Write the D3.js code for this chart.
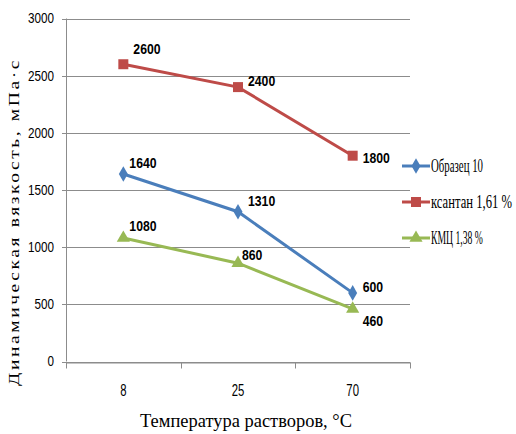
<!DOCTYPE html>
<html>
<head>
<meta charset="utf-8">
<script src="https://cdn.jsdelivr.net/npm/d3@7"></script>
<style>
  body { margin: 0; background: #fff; }
  svg { display: block; }
  .narrow { font-family: "Liberation Sans Narrow", "Arial Narrow", "Liberation Sans", sans-serif; }
  .serif { font-family: "Liberation Serif", "Times New Roman", serif; }
</style>
</head>
<body>
<svg id="chart"></svg>
<script>
const categories = ["8", "25", "70"];
const seriesNames = ["Образец 10", "ксантан 1,61 %", "КМЦ 1,38 %"];
const obrazets = [1640, 1310, 600];
const ksantan = [2600, 2400, 1800];
const kmts = [1080, 860, 460];
const yTicks = [0, 500, 1000, 1500, 2000, 2500, 3000];

// label offsets (dx, dy) relative to the point
const labelOffsets = [
  [[6, -11], [10, -11], [10, -6]],
  [[10, -15], [10, -6], [10, 2]],
  [[6, -12], [4, -8], [10, 12]]
];

const w = 516, h = 434;
const mLeft = 66, mRight = 410, mTop = 18.5, mBottom = 361.5;

const series = [
  { name: seriesNames[0], values: obrazets, color: "#4A7EBB", symbol: d3.symbolDiamond, size: 70 },
  { name: seriesNames[1], values: ksantan, color: "#BE4B48", symbol: d3.symbolSquare, size: 100 },
  { name: seriesNames[2], values: kmts, color: "#98B954", symbol: d3.symbolTriangle, size: 75 }
];

// squeeze text to look like a condensed face
const squeeze = (sel, perChar) => sel
  .attr("textLength", function () { return this.textContent.length * perChar; })
  .attr("lengthAdjust", "spacingAndGlyphs");

const svg = d3.select("#chart").attr("width", w).attr("height", h);

const x = d3.scaleBand().domain(categories).range([mLeft, mRight]);
const y = d3.scaleLinear().domain([0, 3000]).range([mBottom, mTop]);

// gridlines
svg.append("g")
  .selectAll("line")
  .data(yTicks)
  .enter()
  .append("line")
  .attr("x1", mLeft - 4)
  .attr("x2", mRight)
  .attr("y1", d => Math.round(y(d)) + 0.5)
  .attr("y2", d => Math.round(y(d)) + 0.5)
  .attr("stroke", "#8c8c8c")
  .attr("stroke-width", 1);

// y axis line
svg.append("line")
  .attr("x1", mLeft + 0.5).attr("x2", mLeft + 0.5)
  .attr("y1", mTop).attr("y2", mBottom)
  .attr("stroke", "#8c8c8c");

// y tick labels
svg.append("g")
  .selectAll("text")
  .data(yTicks)
  .enter()
  .append("text")
  .attr("class", "narrow")
  .attr("x", mLeft - 12)
  .attr("y", d => y(d))
  .attr("dy", "0.35em")
  .attr("text-anchor", "end")
  .attr("font-size", 14)
  .attr("fill", "#000")
  .text(d => d)
  .call(squeeze, 6.5);

// x axis
const xAxis = d3.axisBottom(x).tickSize(0).tickPadding(22);
const gx = svg.append("g")
  .attr("transform", "translate(0," + (Math.round(mBottom) + 0.5) + ")")
  .call(xAxis);
gx.select(".domain").attr("stroke", "#8c8c8c");
gx.selectAll(".tick text")
  .attr("class", "narrow")
  .attr("font-size", 16)
  .attr("fill", "#000")
  .call(squeeze, 6.3);
gx.selectAll("line.sep")
  .data(categories.concat(["end"]))
  .enter()
  .append("line")
  .attr("class", "sep")
  .attr("x1", (d, i) => Math.round(mLeft + i * x.bandwidth()) + 0.5)
  .attr("x2", (d, i) => Math.round(mLeft + i * x.bandwidth()) + 0.5)
  .attr("y1", 0)
  .attr("y2", 6)
  .attr("stroke", "#8c8c8c");

// lines
const line = d3.line()
  .x((d, i) => x(categories[i]) + x.bandwidth() / 2)
  .y(d => y(d));

series.forEach((s, si) => {
  svg.append("path")
    .datum(s.values)
    .attr("fill", "none")
    .attr("stroke", s.color)
    .attr("stroke-width", 3)
    .attr("d", line);

  svg.append("g")
    .selectAll("path")
    .data(s.values)
    .enter()
    .append("path")
    .attr("d", d3.symbol().type(s.symbol).size(s.size))
    .attr("transform", (d, i) => "translate(" + (x(categories[i]) + x.bandwidth() / 2) + "," + y(d) + ")")
    .attr("fill", s.color);

  svg.append("g")
    .selectAll("text")
    .data(s.values)
    .enter()
    .append("text")
    .attr("class", "narrow")
    .attr("x", (d, i) => x(categories[i]) + x.bandwidth() / 2 + labelOffsets[si][i][0])
    .attr("y", (d, i) => y(d) + labelOffsets[si][i][1])
    .attr("dy", "0.35em")
    .attr("font-size", 15)
    .attr("font-weight", "bold")
    .attr("fill", "#000")
    .text(d => d)
    .call(squeeze, 6.8);
});

// legend
const legend = svg.append("g");
const legendWidths = [52, 81, 52];
series.forEach((s, si) => {
  const ly = 166 + si * 36;
  legend.append("line")
    .attr("x1", 402).attr("x2", 430)
    .attr("y1", ly).attr("y2", ly)
    .attr("stroke", s.color)
    .attr("stroke-width", 3);
  legend.append("path")
    .attr("d", d3.symbol().type(s.symbol).size(s.size))
    .attr("transform", "translate(416," + ly + ")")
    .attr("fill", s.color);
  const t = legend.append("text")
    .attr("class", "serif")
    .attr("dy", "0.35em")
    .attr("font-size", 18)
    .attr("fill", "#000")
    .text(s.name);
  const k = legendWidths[si] / t.node().getComputedTextLength();
  t.attr("transform", "translate(431," + ly + ") scale(" + k + ",1)");
});

// axis titles
svg.append("text")
  .attr("class", "serif")
  .attr("x", 246)
  .attr("y", 420)
  .attr("dy", "0.35em")
  .attr("text-anchor", "middle")
  .attr("font-size", 19)
  .attr("textLength", 212)
  .attr("lengthAdjust", "spacingAndGlyphs")
  .attr("fill", "#000")
  .text("Температура растворов, °С");

svg.append("text")
  .attr("class", "serif")
  .attr("transform", "translate(14,222) rotate(-90)")
  .attr("dy", "0.35em")
  .attr("text-anchor", "middle")
  .attr("font-size", 15)
  .attr("letter-spacing", 2)
  .attr("textLength", 328)
  .attr("lengthAdjust", "spacingAndGlyphs")
  .attr("fill", "#000")
  .text("Динамическая вязкость,  мПа·с");
</script>
</body>
</html>
